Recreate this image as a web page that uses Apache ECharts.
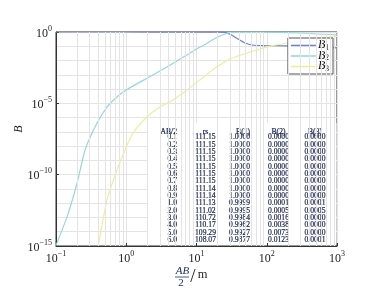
<!DOCTYPE html>
<html>
<head>
<meta charset="utf-8">
<script src="https://cdn.jsdelivr.net/npm/echarts@6/dist/echarts.min.js"></script>
<style>
  html, body { margin: 0; padding: 0; background: #fff; }
  #echarts { width: 369px; height: 300px; }
</style>
</head>
<body>
<div id="echarts"></div>
<script>
const serif = 'Liberation Serif';
let myChart = echarts.init(document.getElementById('echarts'));

// curves (x = AB/2 in m, y = B)
const b1X = [0.1, 1, 6, 10, 20, 25, 28, 32, 39, 49, 62, 94, 195, 1000];
const b1Y = [1, 0.9999, 0.9877, 0.98, 0.97, 0.93, 0.8, 0.6, 0.32, 0.17, 0.123, 0.112, 0.105, 0.076];
const b2X = [0.1, 0.1435, 0.2, 0.259, 0.384, 0.532, 0.738, 1, 2, 3.8, 7.3, 9.5, 13.2, 18.3, 25.5, 32, 80, 300, 1000];
const b2Y = [1.1e-15, 1.1e-13, 2.6e-11, 5.4e-9, 4.2e-7, 5.5e-6, 2.8e-5, 8.7e-5, 6e-4, 3.5e-3, 0.0245, 0.055, 0.133, 0.35, 0.72, 0.92, 0.98, 0.85, 0.62];
const b3X = [0.4, 0.532, 0.738, 0.96, 1.25, 1.97, 3.0, 4.6, 7.3, 11.2, 15.5, 21.4, 30, 49, 80, 120, 195, 400, 1000];
const b3Y = [1e-15, 1.7e-12, 2.1e-10, 5.4e-9, 8.3e-8, 1.1e-6, 5.5e-6, 1.7e-5, 8.7e-5, 4.4e-4, 1.6e-3, 4.9e-3, 0.013, 0.03, 0.064, 0.11, 0.17, 0.3, 0.5];

// table in the lower right
const tableHead = ['AB/2', 'rs', 'B(1)', 'B(2)', 'B(3)'];
const abHalf = ['0.1', '0.2', '0.3', '0.4', '0.5', '0.6', '0.7', '0.8', '0.9', '1.0', '2.0', '3.0', '4.0', '5.0', '6.0'];
const rs = ['111.15', '111.15', '111.15', '111.15', '111.15', '111.15', '111.15', '111.14', '111.14', '111.13', '111.02', '110.72', '110.17', '109.29', '108.07'];
const tB1 = ['1.0000', '1.0000', '1.0000', '1.0000', '1.0000', '1.0000', '1.0000', '1.0000', '1.0000', '0.9999', '0.9995', '0.9984', '0.9962', '0.9927', '0.9877'];
const tB2 = ['0.0000', '0.0000', '0.0000', '0.0000', '0.0000', '0.0000', '0.0000', '0.0000', '0.0000', '0.0001', '0.0005', '0.0016', '0.0038', '0.0073', '0.0123'];
const tB3 = ['0.0000', '0.0000', '0.0000', '0.0000', '0.0000', '0.0000', '0.0000', '0.0000', '0.0000', '0.0001', '0.0005', '0.0000', '0.0000', '0.0000', '0.0001'];

const pairs = (xs, ys) => xs.map((x, i) => [x, ys[i]]);

// minor vertical grid lines: 2..9 within each decade
const xMinor = [];
[-1, 0, 1, 2].forEach(d => {
  for (let k = 2; k <= 9; k++) xMinor.push({ xAxis: k * Math.pow(10, d) });
});

const powText = e => '{b|10}{e|' + (e < 0 ? '\u2212' + Math.abs(e) : String(e)) + '}';
const powRich = {
  b: { fontFamily: serif, fontSize: 12, lineHeight: 15, verticalAlign: 'bottom', color: '#222' },
  e: { fontFamily: serif, fontSize: 8, lineHeight: 8, verticalAlign: 'top', color: '#222' },
};
const expOf = (value, fallback) => (value > 0 ? Math.round(Math.log10(value)) : fallback);

// table columns: [values, anchor x, align]
const tableCols = [
  [abHalf, 177, 'right'],
  [rs, 205.5, 'center'],
  [tB1, 250, 'right'],
  [tB2, 278.5, 'center'],
  [tB3, 315, 'center'],
];
const tableColor = '#15214d';
const rowH = 7.33;
const tableText = {
  fontFamily: serif, fontSize: 7.6, fill: tableColor,
  stroke: tableColor, lineWidth: 0.2,
};
// white panel behind the table hides the grid lines there
const tableGraphics = [{
  type: 'rect',
  z: 2,
  shape: { x: 147, y: 123, width: 189.5, height: 120 },
  style: { fill: '#fff' },
}];
tableCols.forEach((col, i) => {
  tableGraphics.push({
    type: 'text',
    z: 3,
    style: Object.assign({
      text: tableHead[i], x: col[1], y: 131.5, align: col[2], verticalAlign: 'middle',
    }, tableText),
  });
  tableGraphics.push({
    type: 'text',
    z: 3,
    style: Object.assign({
      text: col[0].join('\n'), x: col[1], y: 137.3 - rowH / 2, align: col[2], verticalAlign: 'top',
      lineHeight: rowH,
    }, tableText),
  });
});

const axisLineStyle = { show: true, lineStyle: { color: '#333', width: 1 } };

let option = {
  animation: false,
  grid: {
    left: 56, right: 32, top: 32, bottom: 54,
    show: true, borderColor: '#333', borderWidth: 1,
    outerBoundsMode: 'none',
  },
  legend: {
    orient: 'vertical',
    right: 36,
    top: 38,
    data: ['B1', 'B2', 'B3'],
    icon: 'rect',
    itemWidth: 25,
    itemHeight: 1.6,
    itemGap: -2.5,
    padding: [1, 4, 1, 3],
    backgroundColor: '#fff',
    borderColor: '#555',
    borderWidth: 1,
    borderRadius: 0,
    formatter: name => '{b|B}{s|' + name.slice(1) + '}',
    textStyle: {
      padding: [0, 0, 0, -3],
      rich: {
        b: { fontFamily: serif, fontStyle: 'italic', fontSize: 12, lineHeight: 13, verticalAlign: 'top', color: '#111' },
        s: { fontFamily: serif, fontSize: 7.5, lineHeight: 5, verticalAlign: 'bottom', color: '#111' },
      },
    },
  },
  xAxis: {
    type: 'log',
    logBase: 10,
    min: 0.1,
    max: 1000,
    interval: 1,
    axisLine: axisLineStyle,
    axisTick: { show: true, inside: true, length: 3, lineStyle: { color: '#333' } },
    axisLabel: { margin: 4, formatter: v => powText(expOf(v, -1)), rich: powRich },
    splitLine: { show: true, lineStyle: { color: '#e4e4e4', width: 1 } },
  },
  yAxis: [
    {
      // decade grid lines + labels every fifth decade
      type: 'log',
      logBase: 10,
      min: 1e-15,
      max: 1,
      interval: 1,
      axisLine: axisLineStyle,
      axisTick: { show: false },
      axisLabel: {
        margin: 4,
        formatter: v => {
          const e = expOf(v, -15);
          return e % 5 === 0 ? powText(e) : '';
        },
        rich: powRich,
      },
      splitLine: { show: true, lineStyle: { color: '#e4e4e4', width: 1 } },
    },
    {
      // ticks only at the labelled decades
      type: 'log',
      logBase: 10,
      min: 1e-15,
      max: 1,
      interval: 5,
      position: 'left',
      axisLine: { show: false },
      axisTick: { show: true, inside: true, length: 3, lineStyle: { color: '#333' } },
      axisLabel: { show: false },
      splitLine: { show: false },
    },
  ],
  graphic: [
    // y axis name
    {
      type: 'text', x: 19, y: 129, rotation: Math.PI / 2,
      style: { text: 'B', align: 'center', verticalAlign: 'middle', fontFamily: serif, fontStyle: 'italic', fontSize: 12, fill: '#222' },
    },
    // x axis name: AB over 2, then /m
    {
      type: 'text',
      style: { text: 'AB', x: 182.5, y: 271.5, align: 'center', verticalAlign: 'middle', fontFamily: serif, fontStyle: 'italic', fontSize: 11, fill: '#1c2f6b' },
    },
    {
      type: 'line',
      shape: { x1: 175, y1: 277, x2: 189, y2: 277 },
      style: { stroke: '#1c2f6b', lineWidth: 0.8 },
    },
    {
      type: 'text',
      style: { text: '2', x: 181, y: 283, align: 'center', verticalAlign: 'middle', fontFamily: serif, fontSize: 11, fill: '#1c2f6b' },
    },
    {
      type: 'text',
      style: { text: '/', x: 193, y: 277.5, align: 'center', verticalAlign: 'middle', fontFamily: serif, fontSize: 19, fill: '#222' },
    },
    {
      type: 'text',
      style: { text: 'm', x: 202.5, y: 275, align: 'center', verticalAlign: 'middle', fontFamily: serif, fontSize: 12.5, fill: '#222' },
    },
    ...tableGraphics,
  ],
  series: [
    {
      name: 'minor-grid',
      type: 'line',
      data: [],
      z: 1,
      silent: true,
      markLine: {
        silent: true,
        animation: false,
        symbol: ['none', 'none'],
        label: { show: false },
        lineStyle: { color: '#e4e4e4', width: 1, type: 'solid' },
        emphasis: { disabled: true },
        data: xMinor,
      },
    },
    {
      name: 'B1',
      type: 'line',
      z: 3,
      symbol: 'none',
      smooth: 0.2,
      color: '#6f82c9',
      lineStyle: { width: 1.2 },
      data: pairs(b1X, b1Y),
    },
    {
      name: 'B2',
      type: 'line',
      z: 3,
      symbol: 'none',
      smooth: 0.2,
      color: '#95d7e1',
      lineStyle: { width: 1.2 },
      data: pairs(b2X, b2Y),
    },
    {
      name: 'B3',
      type: 'line',
      z: 3,
      symbol: 'none',
      smooth: 0.2,
      color: '#eeee9a',
      lineStyle: { width: 1.2 },
      data: pairs(b3X, b3Y),
    },
  ],
};
myChart.setOption(option);
</script>
</body>
</html>
